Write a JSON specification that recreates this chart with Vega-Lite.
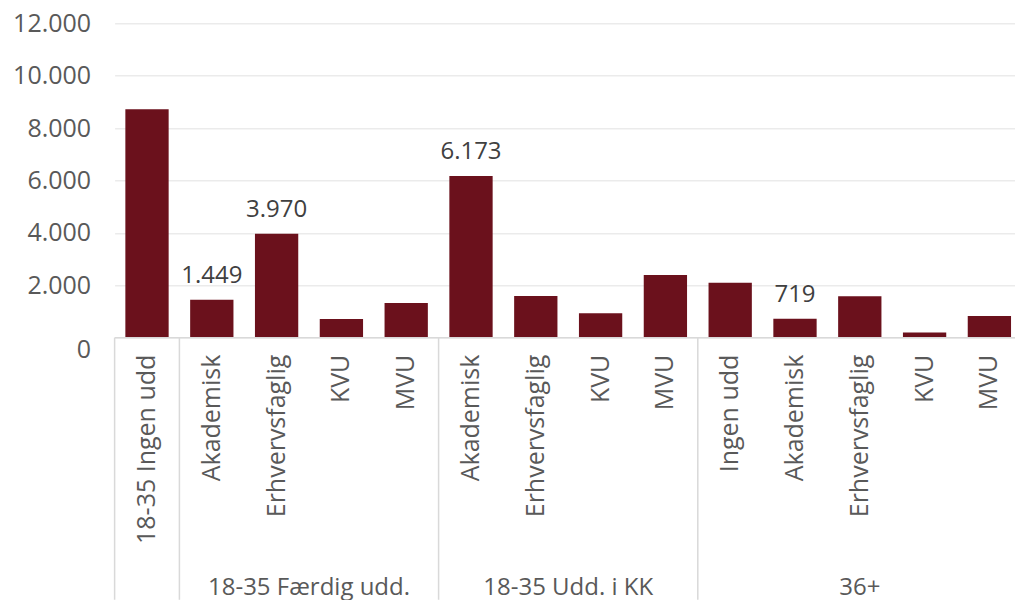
{
  "$schema": "https://vega.github.io/schema/vega-lite/v6.json",
  "autosize": {"type": "none"},
  "padding": {"left": 114.6, "top": 23.3, "right": 0, "bottom": 0},
  "width": 907.2,
  "height": 576.4,
  "config": {
    "view": {"stroke": null},
    "font": "Open Sans"
  },
  "datasets": {
    "bars": [
      {"idx": 1, "grp": "", "cat": "18-35 Ingen udd", "value": 8720, "show": false},
      {"idx": 2, "grp": "18-35 Færdig udd.", "cat": "Akademisk", "value": 1449, "show": true},
      {"idx": 3, "grp": "18-35 Færdig udd.", "cat": "Erhvervsfaglig", "value": 3970, "show": true},
      {"idx": 4, "grp": "18-35 Færdig udd.", "cat": "KVU", "value": 715, "show": false},
      {"idx": 5, "grp": "18-35 Færdig udd.", "cat": "MVU", "value": 1325, "show": false},
      {"idx": 6, "grp": "18-35 Udd. i KK", "cat": "Akademisk", "value": 6173, "show": true},
      {"idx": 7, "grp": "18-35 Udd. i KK", "cat": "Erhvervsfaglig", "value": 1590, "show": false},
      {"idx": 8, "grp": "18-35 Udd. i KK", "cat": "KVU", "value": 930, "show": false},
      {"idx": 9, "grp": "18-35 Udd. i KK", "cat": "MVU", "value": 2390, "show": false},
      {"idx": 10, "grp": "36+", "cat": "Ingen udd", "value": 2100, "show": false},
      {"idx": 11, "grp": "36+", "cat": "Akademisk", "value": 719, "show": true},
      {"idx": 12, "grp": "36+", "cat": "Erhvervsfaglig", "value": 1580, "show": false},
      {"idx": 13, "grp": "36+", "cat": "KVU", "value": 200, "show": false},
      {"idx": 14, "grp": "36+", "cat": "MVU", "value": 830, "show": false}
    ],
    "edges": [{"b": 0.5}, {"b": 1.5}, {"b": 5.5}, {"b": 9.5}, {"b": 14.5}]
  },
  "data": {"name": "bars"},
  "layer": [
    {
      "mark": {"type": "bar", "size": 43.3, "color": "#6B111C"},
      "encoding": {
        "x": {"field": "idx", "type": "quantitative", "scale": {"domain": [0.5, 14.5], "nice": false, "zero": false, "padding": 0}, "axis": null},
        "y": {
          "field": "value", "type": "quantitative",
          "scale": {"domain": [-10000, 12000], "nice": false, "padding": 0},
          "axis": {
            "values": [0, 2000, 4000, 6000, 8000, 10000, 12000],
            "labelExpr": "replace(format(datum.value, ','), ',', '.')",
            "title": null,
            "domain": false,
            "ticks": false,
            "tickSize": 0,
            "labelPadding": 24,
            "labelFont": "Open Sans",
            "labelFontSize": 25,
            "labelColor": "#595959",
            "gridColor": "#ebebeb",
            "gridWidth": 1.5,
            "labelBaseline": {"condition": {"test": "datum.value === 0", "value": "top"}, "value": "middle"}
          }
        }
      }
    },
    {
      "transform": [
        {"filter": "datum.show"},
        {"calculate": "replace(format(datum.value, ','), ',', '.')", "as": "lbl"}
      ],
      "mark": {"type": "text", "dy": -17, "baseline": "alphabetic", "align": "center", "fontSize": 24, "font": "Open Sans", "color": "#404040"},
      "encoding": {
        "x": {"field": "idx", "type": "quantitative"},
        "y": {"field": "value", "type": "quantitative"},
        "text": {"field": "lbl"}
      }
    },
    {
      "data": {"name": "edges"},
      "mark": {"type": "rule", "color": "#d9d9d9", "strokeWidth": 1.5},
      "encoding": {
        "x": {"field": "b", "type": "quantitative"},
        "y": {"datum": 0, "type": "quantitative"},
        "y2": {"datum": -10000}
      }
    },
    {
      "data": {"name": "edges"},
      "transform": [{"aggregate": [{"op": "min", "field": "b", "as": "lo"}, {"op": "max", "field": "b", "as": "hi"}]}],
      "mark": {"type": "rule", "color": "#d9d9d9", "strokeWidth": 1.5},
      "encoding": {
        "x": {"field": "lo", "type": "quantitative"},
        "x2": {"field": "hi"},
        "y": {"datum": 0, "type": "quantitative"}
      }
    },
    {
      "mark": {"type": "text", "angle": 270, "align": "right", "baseline": "middle", "dx": -17, "fontSize": 25, "font": "Open Sans", "color": "#595959"},
      "encoding": {
        "x": {"field": "idx", "type": "quantitative"},
        "y": {"datum": 0, "type": "quantitative"},
        "text": {"field": "cat"}
      }
    },
    {
      "transform": [
        {"filter": "datum.grp != ''"},
        {"aggregate": [{"op": "mean", "field": "idx", "as": "mid"}], "groupby": ["grp"]}
      ],
      "mark": {"type": "text", "align": "center", "baseline": "alphabetic", "dy": -5, "fontSize": 24, "font": "Open Sans", "color": "#595959"},
      "encoding": {
        "x": {"field": "mid", "type": "quantitative"},
        "y": {"datum": -10000, "type": "quantitative"},
        "text": {"field": "grp"}
      }
    }
  ]
}
